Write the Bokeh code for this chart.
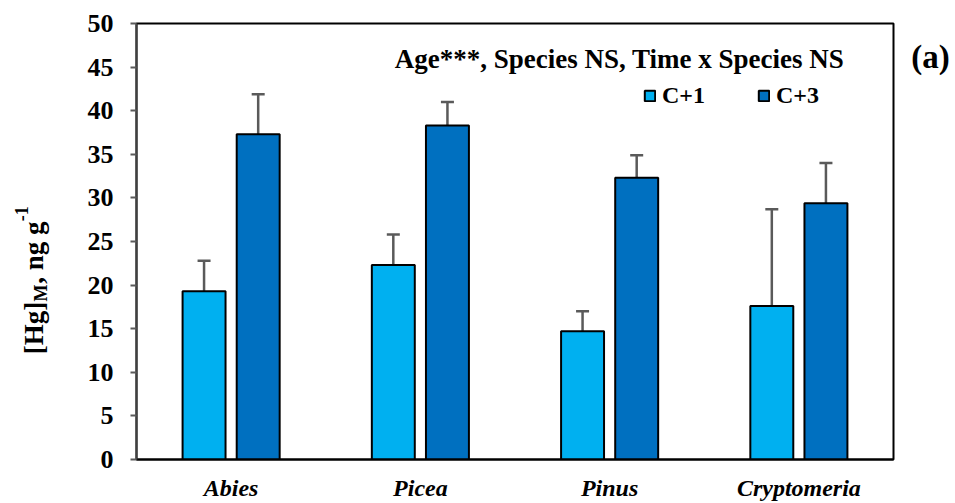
import math
from bokeh.plotting import figure
from bokeh.models import (ColumnDataSource, FactorRange, Range1d, Whisker, TeeHead,
                          Label, Legend, LegendItem, FixedTicker)
from bokeh.transform import dodge
from bokeh.embed import file_html
from bokeh.resources import INLINE

# ---------------- data ----------------
species = ["Abies", "Picea", "Pinus", "Cryptomeria"]
c1_mean = [19.3, 22.3, 14.7, 17.6]
c1_err = [3.5, 3.5, 2.3, 11.1]
c3_mean = [37.3, 38.3, 32.3, 29.4]
c3_err = [4.6, 2.7, 2.6, 4.6]
series_names = ["C+1", "C+3"]
y_ticks = [0, 5, 10, 15, 20, 25, 30, 35, 40, 45, 50]
annotation = "Age***, Species NS, Time x Species NS"
panel_tag = "(a)"

src = ColumnDataSource(dict(
    species=species,
    c1=c1_mean, c1_up=[m + e for m, e in zip(c1_mean, c1_err)],
    c3=c3_mean, c3_up=[m + e for m, e in zip(c3_mean, c3_err)],
))

FONT = "Liberation Serif"
C1_COLOR = "#00B0F0"
C3_COLOR = "#0070C0"
ERR_COLOR = "#5A5A5A"

# frame: x 136..893, y 23..462 (page pixels)
p = figure(width=955, height=503, x_range=FactorRange(*species, range_padding=0),
           y_range=Range1d(0, 50), output_backend="svg", toolbar_location=None,
           min_border_left=136, min_border_right=62, min_border_top=23, min_border_bottom=41)
p.background_fill_color = "white"
p.border_fill_color = "white"
p.outline_line_color = "black"
p.outline_line_width = 2
p.xgrid.visible = False
p.ygrid.visible = False

off = 0.143
bw = 0.227
r1 = p.vbar(x=dodge("species", -off, range=p.x_range), top="c1", width=bw, source=src,
            fill_color=C1_COLOR, line_color="black", line_width=2)
r3 = p.vbar(x=dodge("species", off, range=p.x_range), top="c3", width=bw, source=src,
            fill_color=C3_COLOR, line_color="black", line_width=2)

for col, up, o in (("c1", "c1_up", -off), ("c3", "c3_up", off)):
    w = Whisker(base=dodge("species", o, range=p.x_range), lower=col, upper=up, source=src,
                line_color=ERR_COLOR, line_width=2.5, lower_head=None,
                upper_head=TeeHead(size=13, line_color=ERR_COLOR, line_width=2.5))
    p.add_layout(w)

# x axis (category labels)
xa = p.xaxis[0]
xa.axis_line_color = "black"
xa.axis_line_width = 2
xa.major_tick_line_color = None
xa.major_tick_out = 0
xa.major_tick_in = 0
xa.minor_tick_line_color = None
xa.major_label_standoff = 15
xa.major_label_text_font = FONT
xa.major_label_text_font_style = "bold italic"
xa.major_label_text_font_size = "24px"
xa.major_label_text_color = "black"

# y axis
ya = p.yaxis[0]
ya.ticker = FixedTicker(ticks=y_ticks)
ya.axis_line_color = "#404040"
ya.axis_line_width = 2
ya.major_tick_line_color = "#5A5A5A"
ya.major_tick_line_width = 2
ya.major_tick_out = 6
ya.major_tick_in = 0
ya.minor_tick_line_color = None
ya.major_label_standoff = 17
ya.major_label_text_font = FONT
ya.major_label_text_font_style = "bold"
ya.major_label_text_font_size = "26px"
ya.major_label_text_color = "black"

# legend
legend = Legend(items=[LegendItem(label=series_names[0], renderers=[r1]),
                       LegendItem(label=series_names[1], renderers=[r3])],
                orientation="horizontal", location=(507, 350))
legend.padding = 0
legend.margin = 0
legend.spacing = 52
legend.glyph_width = 13
legend.glyph_height = 13
legend.label_standoff = 6
legend.label_text_font = FONT
legend.label_text_font_style = "bold"
legend.label_text_font_size = "24px"
legend.label_text_color = "black"
legend.background_fill_alpha = 0
legend.border_line_alpha = 0
p.add_layout(legend, "center")

# frame pixel -> data helpers (for text placement only)
def dx(px):
    return (px - 136) / (757 / 4)

def dy(py):
    return (462 - py) / (439 / 50)

p.add_layout(Label(x=dx(619), y=dy(59), text=annotation, text_font=FONT,
                   text_font_style="bold", text_font_size="27px", text_align="center",
                   text_baseline="alphabetic", text_color="black"))
p.add_layout(Label(x=dx(930), y=dy(57), text=panel_tag, text_font=FONT,
                   text_font_style="bold", text_font_size="33px", text_align="center",
                   text_baseline="alphabetic", text_color="black"), "right")

# rotated y-axis title: [Hg]_M, ng g^-1  (pieces spread over side panels so the
# frame keeps its place; positions are in data units of the main scales)
rot = math.pi / 2
pieces = [("[Hg]", 33, 356, "27px", "left"),
          ("M", 40, 303, "18px", "above"),
          (", ng g", 33, 285, "27px", "left"),
          ("-1", 21, 222, "18px", "right")]
for txt, px, py, fs, place in pieces:
    p.add_layout(Label(x=dx(px), y=dy(py), text=txt, angle=rot, text_font=FONT,
                       text_font_style="bold", text_font_size=fs, text_align="left",
                       text_baseline="alphabetic", text_color="black"), place)

open("out.html", "w").write(file_html(p, INLINE))
